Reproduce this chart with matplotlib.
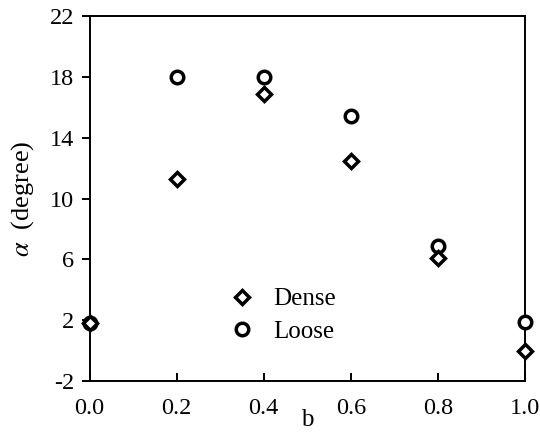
import numpy as np
import matplotlib.pyplot as plt

plt.rcParams['font.family'] = ['Liberation Serif', 'DejaVu Serif']
plt.rcParams['mathtext.fontset'] = 'stix'
plt.rcParams['axes.unicode_minus'] = False

# --- data ---
b = [0.0, 0.2, 0.4, 0.6, 0.8, 1.0]
dense = [1.8, 11.3, 16.9, 12.5, 6.1, 0.0]
loose = [1.8, 18.0, 18.0, 15.4, 6.9, 1.9]
xticks = [0.0, 0.2, 0.4, 0.6, 0.8, 1.0]
yticks = [-2, 2, 6, 10, 14, 18, 22]

fig = plt.figure(figsize=(5.4, 4.34), dpi=100)
ax = fig.add_axes([0.166, 0.122, 0.806, 0.841])

hl, = ax.plot(b, loose, 'o', ms=9, mfc='white', mec='black', mew=2.5,
              clip_on=False, zorder=3, label='Loose')
hd, = ax.plot(b, dense, 'D', ms=7.5, mfc='white', mec='black', mew=2.5,
              clip_on=False, zorder=4, label='Dense')

ax.set_xlim(0, 1)
ax.set_ylim(-2, 22)
ax.set_xticks(xticks)
ax.set_xticklabels([f"{v:.1f}" for v in xticks])
ax.set_yticks(yticks)
ax.tick_params(axis='x', direction='in', length=6, width=1.4, labelsize=17.5, pad=12)
ax.tick_params(axis='y', direction='out', length=6, width=1.4, labelsize=17.5, pad=5)
for s in ax.spines.values():
    s.set_linewidth(1.4)

ax.set_xlabel("b", fontsize=18, labelpad=-7)
ax.set_ylabel(r"$\alpha$  (degree)", fontsize=19, labelpad=10)

ax.legend(handles=[hd, hl], loc='center left', bbox_to_anchor=(0.255, 0.18),
          frameon=False, fontsize=18, handletextpad=0.5, labelspacing=0.4,
          handlelength=1.5)

fig.savefig("out.png", dpi=100)
